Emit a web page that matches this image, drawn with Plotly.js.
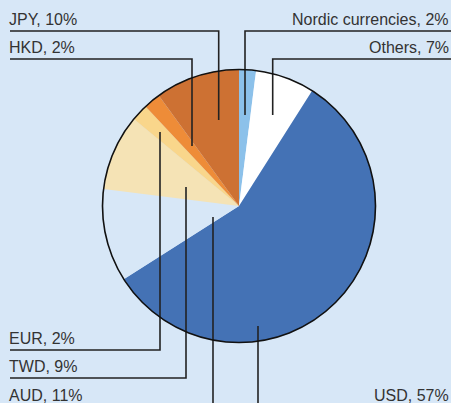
<!DOCTYPE html>
<html>
<head>
<meta charset="utf-8">
<script src="https://cdn.plot.ly/plotly-3.0.1.min.js"></script>
<style>html,body{margin:0;padding:0;background:#d7e7f7;}#chart{width:451px;height:403px;}</style>
</head>
<body>
<div id="chart"></div>
<script>
// Data (clockwise from 12 o'clock)
const currencies = ["Nordic currencies", "Others", "USD", "AUD", "TWD", "EUR", "HKD", "JPY"];
const shares = [2, 7, 57, 11, 9, 2, 2, 10];
const sliceColors = ["#8cc1ea", "#ffffff", "#4472b5", "#d7e7f7", "#f5e3b5", "#f9d68b", "#ee8c38", "#cd7133"];

const W = 451, H = 403;
const px = x => x / W;
const py = y => 1 - y / H;

// Pie geometry (pixels)
const cx = 239, cy = 206, R = 136.5;

// Label layout: [text x, anchor, baseline y, leader path in px]
const labelLayout = {
  "Nordic currencies": {x: 448.5, anchor: "right", base: 24.3, path: [[451,31],[245,31],[245,115]]},
  "Others": {x: 448.5, anchor: "right", base: 52.3, path: [[451,59],[272.7,59],[272.7,115]]},
  "USD": {x: 448.5, anchor: "right", base: 400, path: [[258,326],[258,410]]},
  "AUD": {x: 9, anchor: "left", base: 400, path: [[213,217],[213,410]]},
  "TWD": {x: 9, anchor: "left", base: 371.7, path: [[10,378],[186,378],[186,187]]},
  "EUR": {x: 9, anchor: "left", base: 343.3, path: [[10,350],[160,350],[160,132]]},
  "HKD": {x: 9, anchor: "left", base: 52.3, path: [[10,59],[192,59],[192,146]]},
  "JPY": {x: 9, anchor: "left", base: 24.3, path: [[10,31],[218.7,31],[218.7,120]]}
};

const trace = {
  type: "pie",
  labels: currencies,
  values: shares,
  sort: false,
  direction: "clockwise",
  rotation: 0,
  textinfo: "none",
  hoverinfo: "label+percent",
  marker: {colors: sliceColors, line: {width: 0}},
  domain: {x: [px(cx - R), px(cx + R)], y: [py(cy + R), py(cy - R)]},
  showlegend: false
};

const annotations = currencies.map((c, i) => {
  const L = labelLayout[c];
  return {
    xref: "paper", yref: "paper",
    x: px(L.x), y: py(L.base - 5),
    xanchor: L.anchor, yanchor: "middle",
    text: c + ", " + shares[i] + "%",
    showarrow: false,
    borderpad: 0, borderwidth: 0,
    font: {family: "Liberation Sans, Arial, sans-serif", size: 16, color: "#333333"}
  };
});

const shapes = currencies.map(c => {
  const p = labelLayout[c].path;
  const d = p.map((pt, j) => (j === 0 ? "M" : "L") + px(pt[0]).toFixed(5) + "," + py(pt[1]).toFixed(5)).join(" ");
  return {type: "path", xref: "paper", yref: "paper", path: d, line: {color: "#222222", width: 1.6}};
});
shapes.push({
  type: "circle", xref: "paper", yref: "paper",
  x0: px(cx - R), x1: px(cx + R), y0: py(cy + R), y1: py(cy - R),
  line: {color: "#111111", width: 1.6}, layer: "above"
});

const layout = {
  width: W, height: H,
  margin: {l: 0, r: 0, t: 0, b: 0},
  paper_bgcolor: "#d7e7f7",
  plot_bgcolor: "#d7e7f7",
  annotations: annotations,
  shapes: shapes,
  showlegend: false
};

Plotly.newPlot("chart", [trace], layout, {displayModeBar: false, staticPlot: true});
</script>
</body>
</html>
